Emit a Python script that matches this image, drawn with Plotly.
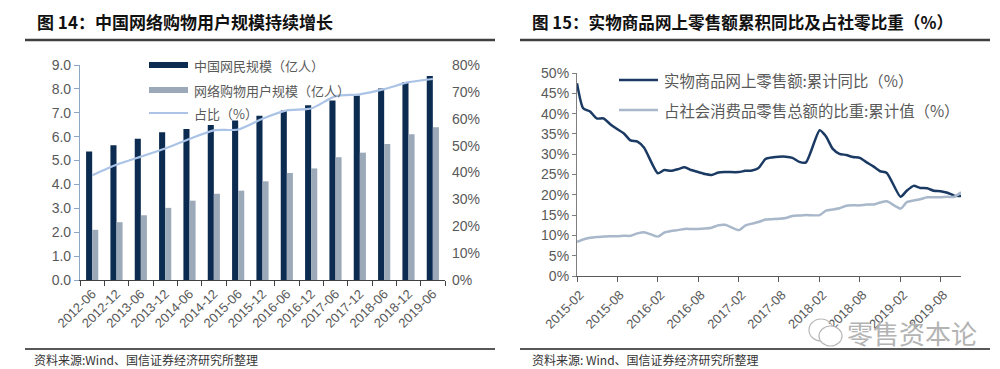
import plotly.graph_objects as go

# ---------------- Data: left chart ----------------
categories = ["2012-06", "2012-12", "2013-06", "2013-12", "2014-06", "2014-12", "2015-06",
              "2015-12", "2016-06", "2016-12", "2017-06", "2017-12", "2018-06", "2018-12", "2019-06"]
netizens = [5.38, 5.64, 5.91, 6.18, 6.32, 6.49, 6.68, 6.88, 7.10, 7.31, 7.51, 7.72, 8.02, 8.29, 8.54]
shoppers = [2.10, 2.42, 2.71, 3.02, 3.32, 3.61, 3.74, 4.13, 4.48, 4.67, 5.14, 5.33, 5.69, 6.10, 6.39]
share_ratio = [0.390, 0.429, 0.459, 0.489, 0.525, 0.557, 0.560, 0.600, 0.631, 0.638, 0.684, 0.691,
               0.710, 0.736, 0.748]

# ---------------- Data: right chart ----------------
months = [f"{y}-{m:02d}-01" for y in range(2015, 2020) for m in range(2, 13) if not (y == 2019 and m > 11)]
online_yoy = [
    47.5, 41.3, 40.5, 38.8, 38.8, 37.4, 36.2, 35.1, 33.4, 33.1, 31.6,   # 2015
    25.3, 26.1, 25.9, 26.3, 26.8, 26.1, 25.6, 25.1, 24.9, 25.5, 25.6,   # 2016
    25.6, 25.9, 26.0, 26.6, 28.8, 29.2, 29.4, 29.4, 29.1, 28.1, 28.0,   # 2017
    35.9, 34.4, 31.3, 30.1, 29.8, 29.3, 29.1, 28.0, 27.0, 25.8, 25.4,   # 2018
    19.5, 21.0, 22.2, 21.7, 21.6, 21.0, 20.9, 20.5, 19.8, 19.7,         # 2019
]
online_share = [
    8.4, 9.0, 9.4, 9.6, 9.7, 9.8, 9.8, 9.9, 9.9, 10.5, 10.8,            # 2015
    9.7, 10.7, 11.1, 11.3, 11.6, 11.6, 11.6, 11.7, 11.9, 12.5, 12.6,    # 2016
    11.3, 12.4, 12.9, 13.3, 13.9, 14.0, 14.1, 14.3, 14.8, 14.9, 15.0,   # 2017
    15.0, 16.1, 16.4, 16.7, 17.3, 17.4, 17.4, 17.6, 17.6, 18.1, 18.4,   # 2018
    16.6, 18.2, 18.6, 18.9, 19.4, 19.4, 19.4, 19.5, 19.5, 20.6,         # 2019
]
right_ticks = ["2015-02-01", "2015-08-01", "2016-02-01", "2016-08-01", "2017-02-01",
               "2017-08-01", "2018-02-01", "2018-08-01", "2019-02-01", "2019-08-01"]

W, H = 1000, 369
def px(x):
    return x / W
def py(y):
    return 1 - y / H

FONT = "Liberation Sans, Arial, Noto Sans CJK SC, sans-serif"
CJK = "Noto Sans CJK SC, Liberation Sans, sans-serif"
GRAY_TXT = "#595959"

NAVY = "#0c2b51"
BARGRAY = "#9ba9b8"
LIGHTBLUE = "#aac3e6"
LINE_DARK = "#1b3a63"
LINE_LIGHT = "#a8b7ca"

fig = go.Figure()

# Left chart
fig.add_trace(go.Bar(x=categories, y=netizens, marker_color=NAVY, name="中国网民规模（亿人）",
                     xaxis="x", yaxis="y", showlegend=False))
fig.add_trace(go.Bar(x=categories, y=shoppers, marker_color=BARGRAY, name="网络购物用户规模（亿人）",
                     xaxis="x", yaxis="y", showlegend=False))
fig.add_trace(go.Scatter(x=categories, y=share_ratio, mode="lines", name="占比（%）",
                         line=dict(color=LIGHTBLUE, width=2.2, shape="spline", smoothing=0.6),
                         xaxis="x", yaxis="y2", showlegend=False))

# Right chart
fig.add_trace(go.Scatter(x=months, y=online_yoy, mode="lines", name="实物商品网上零售额:累计同比（%）",
                         line=dict(color=LINE_DARK, width=2.5, shape="spline", smoothing=0.6),
                         xaxis="x3", yaxis="y3", showlegend=False))
fig.add_trace(go.Scatter(x=months, y=online_share, mode="lines",
                         name="占社会消费品零售总额的比重:累计值（%）",
                         line=dict(color=LINE_LIGHT, width=2.5, shape="spline", smoothing=0.6),
                         xaxis="x3", yaxis="y3", showlegend=False))

tickfont = dict(family=FONT, size=14, color=GRAY_TXT)
xtickfont = dict(family=FONT, size=13, color=GRAY_TXT)

fig.update_layout(
    template="none",
    width=W, height=H,
    margin=dict(l=0, r=0, t=0, b=0, autoexpand=False),
    paper_bgcolor="white", plot_bgcolor="white",
    barmode="group", bargap=0.5, bargroupgap=0,
    xaxis=dict(domain=[px(72), px(437)], anchor="y", type="category", range=[-0.5, 14.5],
               showline=True, linecolor="#404040", linewidth=1.2, ticks="outside", ticklen=5,
               tickcolor="#404040", tickson="boundaries", tickangle=-45, tickfont=xtickfont,
               showgrid=False, zeroline=False, automargin=False),
    yaxis=dict(domain=[py(272), py(57)], anchor="x", range=[0, 9], dtick=1, tickformat=".1f",
               showline=True, linecolor="#8da7c6", linewidth=1.2, ticks="outside", ticklen=5,
               tickcolor="#8da7c6", tickfont=tickfont, showgrid=False, zeroline=False,
               automargin=False),
    yaxis2=dict(overlaying="y", side="right", anchor="x", range=[0, 0.8], dtick=0.1,
                tickformat=".0%", showline=False, ticks="", tickfont=tickfont, showgrid=False,
                zeroline=False, ticklabelstandoff=6, automargin=False),
    xaxis3=dict(domain=[px(569), px(953)], anchor="y3", type="date",
                range=["2015-02-01", "2019-11-01"], tickvals=right_ticks, tickformat="%Y-%m",
                showline=True, linecolor="#595959", linewidth=1.2, ticks="outside", ticklen=5,
                tickcolor="#595959", tickangle=-45, tickfont=xtickfont, showgrid=False,
                zeroline=False, ticklabelshift=3, automargin=False),
    yaxis3=dict(domain=[py(268), py(65)], anchor="x3", range=[0, 50], dtick=5, ticksuffix="%",
                showline=True, linecolor="#7f7f7f", linewidth=1.2, ticks="outside", ticklen=4,
                tickcolor="#7f7f7f", tickfont=tickfont, showgrid=False, zeroline=False,
                automargin=False),
)

shapes = []
annotations = []

# Title rules and bottom rules
for x0, x1 in [(17, 487), (512, 982)]:
    shapes.append(dict(type="line", xref="paper", yref="paper", x0=px(x0), x1=px(x1),
                       y0=py(32), y1=py(32), line=dict(color="#404040", width=2.5)))
    shapes.append(dict(type="line", xref="paper", yref="paper", x0=px(x0), x1=px(x1),
                       y0=py(341), y1=py(341), line=dict(color="#202020", width=1.5)))

# Titles
annotations.append(dict(text="<b>图 14：中国网络购物用户规模持续增长</b>", xref="paper", yref="paper",
                        x=px(27), y=py(14), xanchor="left", yanchor="middle", showarrow=False,
                        font=dict(family=CJK, size=17, color="#111111")))
annotations.append(dict(text="<b>图 15：实物商品网上零售额累积同比及占社零比重（%）</b>", xref="paper",
                        yref="paper", x=px(522), y=py(14), xanchor="left", yanchor="middle",
                        showarrow=False, font=dict(family=CJK, size=16.6, color="#111111")))

# Sources
annotations.append(dict(text="资料来源:Wind、国信证券经济研究所整理", xref="paper", yref="paper",
                        x=px(24), y=py(351), xanchor="left", yanchor="middle", showarrow=False,
                        font=dict(family=CJK, size=12, color="#333333")))
annotations.append(dict(text="资料来源: Wind、国信证券经济研究所整理", xref="paper", yref="paper",
                        x=px(522), y=py(351), xanchor="left", yanchor="middle", showarrow=False,
                        font=dict(family=CJK, size=12, color="#333333")))

# Left legend (custom)
legL = [("bar", NAVY, "中国网民规模（亿人）", 57),
        ("bar", BARGRAY, "网络购物用户规模（亿人）", 82),
        ("line", LIGHTBLUE, "占比（%）", 105)]
for kind, col, label, yc in legL:
    if kind == "bar":
        shapes.append(dict(type="rect", xref="paper", yref="paper", x0=px(141), x1=px(180),
                           y0=py(yc + 3), y1=py(yc - 3), line=dict(width=0), fillcolor=col))
    else:
        shapes.append(dict(type="line", xref="paper", yref="paper", x0=px(141), x1=px(180),
                           y0=py(yc), y1=py(yc), line=dict(color=col, width=2.2)))
    annotations.append(dict(text=label, xref="paper", yref="paper", x=px(184), y=py(yc),
                            xanchor="left", yanchor="middle", showarrow=False,
                            font=dict(family=CJK, size=13, color=GRAY_TXT)))

# Right legend (custom)
legR = [(LINE_DARK, "实物商品网上零售额:累计同比（%）", 72),
        (LINE_LIGHT, "占社会消费品零售总额的比重:累计值（%）", 102)]
for col, label, yc in legR:
    shapes.append(dict(type="line", xref="paper", yref="paper", x0=px(611), x1=px(650),
                       y0=py(yc), y1=py(yc), line=dict(color=col, width=2.5)))
    annotations.append(dict(text=label, xref="paper", yref="paper", x=px(654), y=py(yc),
                            xanchor="left", yanchor="middle", showarrow=False,
                            font=dict(family=CJK, size=15.4, color=GRAY_TXT)))

# Watermark
shapes.append(dict(type="circle", xref="paper", yref="paper", x0=px(801), x1=px(825),
                   y0=py(333), y1=py(311), line=dict(color="#b8b8b8", width=1.2)))
shapes.append(dict(type="circle", xref="paper", yref="paper", x0=px(811), x1=px(834),
                   y0=py(338), y1=py(318), line=dict(color="#b8b8b8", width=1.2),
                   fillcolor="white"))
annotations.append(dict(text="零售资本论", xref="paper", yref="paper", x=px(837), y=py(324),
                        xanchor="left", yanchor="middle", showarrow=False,
                        font=dict(family=CJK, size=26, color="#b3b3b3")))

fig.update_layout(shapes=shapes, annotations=annotations)

fig.write_html("out.html")
